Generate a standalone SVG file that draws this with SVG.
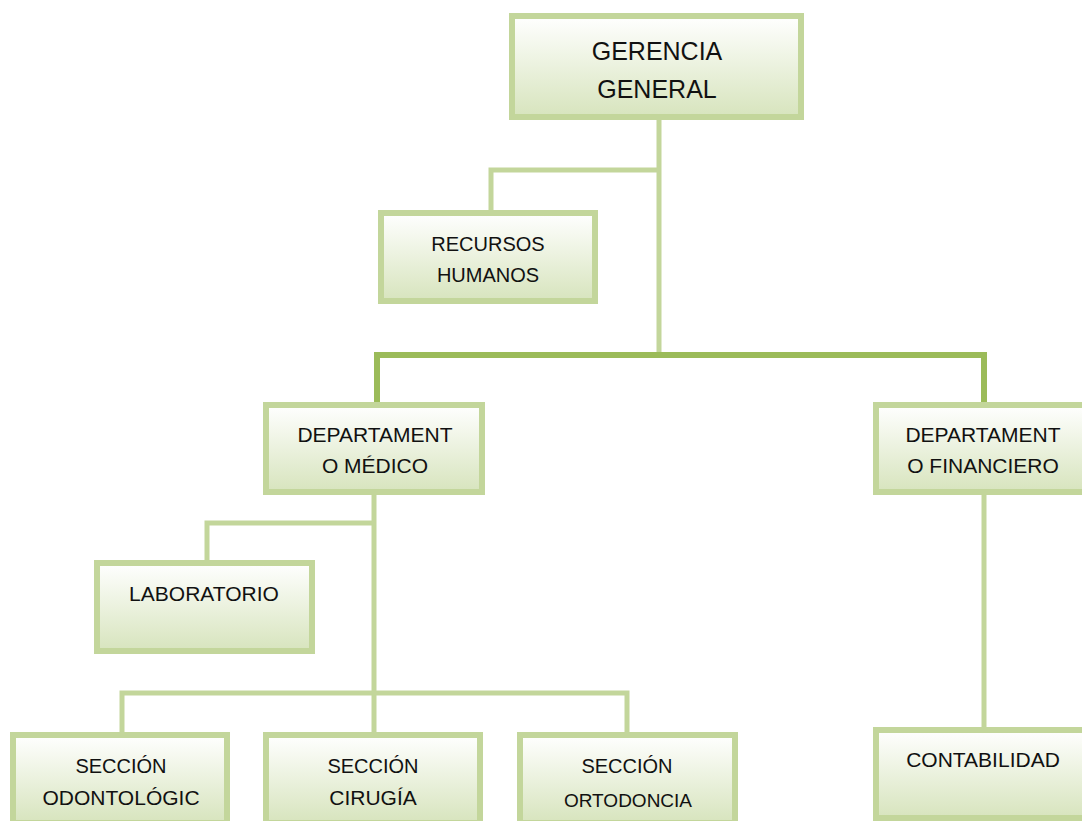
<svg xmlns="http://www.w3.org/2000/svg" width="1082" height="821" viewBox="0 0 1082 821">
<defs>
<linearGradient id="g" x1="0" y1="0" x2="0" y2="1">
<stop offset="0" stop-color="#ffffff"/>
<stop offset="1" stop-color="#d7e4bd"/>
</linearGradient>
<style>
.box{fill:url(#g);stroke:#c3d69b;stroke-width:6}
.c{fill:none;stroke:#c3d69b;stroke-width:5}
.ct{fill:none;stroke:#9bbb59;stroke-width:6}
text{font-family:"Liberation Sans",Arial,sans-serif;fill:#111;text-anchor:middle;font-size:21px}
.big{font-size:25px}
.m{font-size:20px}
.sm{font-size:19px}
</style>
</defs>
<rect width="1082" height="821" fill="#ffffff"/>
<g id="connectors">
<path class="c" d="M659,120 V352"/>
<path class="c" d="M491,210 V170 H659"/>
<path class="ct" d="M377,405 V355 H984 V405"/>
<path class="c" d="M374,495 V732"/>
<path class="c" d="M207,560 V523 H374"/>
<path class="c" d="M122,732 V693 H627 V732"/>
<path class="c" d="M984,495 V727"/>
</g>
<g id="gerencia">
<rect class="box" x="512" y="16" width="289" height="101"/>
<text class="big" x="657" y="60">GERENCIA</text>
<text class="big" x="657" y="98">GENERAL</text>
</g>
<g id="recursos">
<rect class="box" x="381" y="213" width="214" height="88"/>
<text class="m" x="488" y="251">RECURSOS</text>
<text class="m" x="488" y="282">HUMANOS</text>
</g>
<g id="medico">
<rect class="box" x="266" y="405" width="216" height="87"/>
<text x="375" y="442">DEPARTAMENT</text>
<text x="375" y="473">O MÉDICO</text>
</g>
<g id="financiero">
<rect class="box" x="876" y="405" width="216" height="87"/>
<text x="983" y="442">DEPARTAMENT</text>
<text x="983" y="473">O FINANCIERO</text>
</g>
<g id="laboratorio">
<rect class="box" x="97" y="563" width="215" height="88"/>
<text x="204" y="601">LABORATORIO</text>
</g>
<g id="odontologica">
<rect class="box" x="13" y="735" width="214" height="88"/>
<text class="m" x="121" y="773">SECCIÓN</text>
<text x="121" y="805">ODONTOLÓGIC</text>
</g>
<g id="cirugia">
<rect class="box" x="266" y="735" width="214" height="88"/>
<text class="m" x="373" y="773">SECCIÓN</text>
<text x="373" y="805">CIRUGÍA</text>
</g>
<g id="ortodoncia">
<rect class="box" x="520" y="735" width="215" height="88"/>
<text class="m" x="627" y="773">SECCIÓN</text>
<text class="sm" x="628" y="807">ORTODONCIA</text>
</g>
<g id="contabilidad">
<rect class="box" x="876" y="730" width="216" height="88"/>
<text x="983" y="767">CONTABILIDAD</text>
</g>
</svg>
